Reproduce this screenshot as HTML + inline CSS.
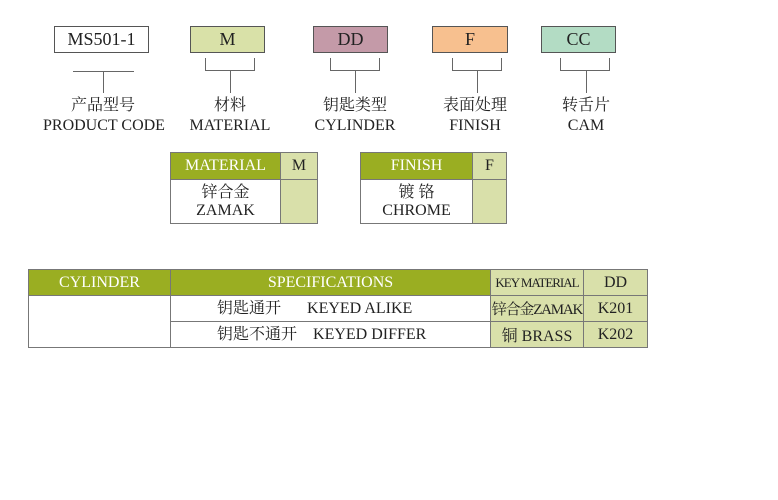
<!DOCTYPE html>
<html><head><meta charset="utf-8"><style>
body{margin:0;width:778px;height:500px;background:#fff;position:relative;overflow:hidden;font-family:"Liberation Serif","Noto Serif CJK SC",serif;color:#222}
.a{position:absolute;box-sizing:border-box}
.box{border:1px solid #555;text-align:center;font-size:18px;line-height:25px}
.l{background:#666}
.t{text-align:center;font-size:16px;line-height:20px;white-space:nowrap}
.g{background:#9aae22;color:#fff}
.lg{background:#d9e0aa}
.c{display:flex;align-items:center;justify-content:center;border:1px solid #777;font-size:16px;white-space:nowrap;overflow:hidden}
</style></head><body>
<div class="a box" style="left:54px;top:26px;width:95px;height:27px">MS501-1</div>
<div class="a box" style="left:190px;top:26px;width:75px;height:27px;background:#d9e1a8">M</div>
<div class="a box" style="left:313px;top:26px;width:75px;height:27px;background:#c49aa8">DD</div>
<div class="a box" style="left:432px;top:26px;width:76px;height:27px;background:#f7c08f">F</div>
<div class="a box" style="left:541px;top:26px;width:75px;height:27px;background:#b3dcc4">CC</div>

<div class="a l" style="left:73px;top:71px;width:61px;height:1px"></div>
<div class="a l" style="left:103px;top:71px;width:1px;height:22px"></div>
<div class="a" style="left:205px;top:58px;width:50px;height:13px;border:1px solid #666;border-top:none"></div>
<div class="a l" style="left:230px;top:71px;width:1px;height:22px"></div>
<div class="a" style="left:330px;top:58px;width:50px;height:13px;border:1px solid #666;border-top:none"></div>
<div class="a l" style="left:355px;top:71px;width:1px;height:22px"></div>
<div class="a" style="left:452px;top:58px;width:50px;height:13px;border:1px solid #666;border-top:none"></div>
<div class="a l" style="left:477px;top:71px;width:1px;height:22px"></div>
<div class="a" style="left:560px;top:58px;width:50px;height:13px;border:1px solid #666;border-top:none"></div>
<div class="a l" style="left:586px;top:71px;width:1px;height:22px"></div>

<div class="a t" style="left:43px;top:96px;width:120px">产品型号<br>PRODUCT CODE</div>
<div class="a t" style="left:180px;top:96px;width:100px">材料<br>MATERIAL</div>
<div class="a t" style="left:305px;top:96px;width:100px">钥匙类型<br>CYLINDER</div>
<div class="a t" style="left:425px;top:96px;width:100px">表面处理<br>FINISH</div>
<div class="a t" style="left:536px;top:96px;width:100px">转舌片<br>CAM</div>

<div class="a c g" style="left:170px;top:152px;width:111px;height:28px">MATERIAL</div>
<div class="a c lg" style="left:280px;top:152px;width:38px;height:28px">M</div>
<div class="a c" style="left:170px;top:179px;width:111px;height:45px;line-height:18px;flex-direction:column">锌合金<span>ZAMAK</span></div>
<div class="a c lg" style="left:280px;top:179px;width:38px;height:45px"></div>

<div class="a c g" style="left:360px;top:152px;width:113px;height:28px">FINISH</div>
<div class="a c lg" style="left:472px;top:152px;width:35px;height:28px">F</div>
<div class="a c" style="left:360px;top:179px;width:113px;height:45px;line-height:18px;flex-direction:column">镀 铬<span>CHROME</span></div>
<div class="a c lg" style="left:472px;top:179px;width:35px;height:45px"></div>

<div class="a c g" style="left:28px;top:269px;width:143px;height:27px">CYLINDER</div>
<div class="a c g" style="left:170px;top:269px;width:321px;height:27px">SPECIFICATIONS</div>
<div class="a c lg" style="left:490px;top:269px;width:94px;height:27px;font-size:13px;letter-spacing:-1px">KEY MATERIAL</div>
<div class="a c lg" style="left:583px;top:269px;width:65px;height:27px">DD</div>
<div class="a c" style="left:28px;top:295px;width:143px;height:53px"></div>
<div class="a c" style="left:170px;top:295px;width:321px;height:27px;justify-content:flex-start;padding-left:46px;line-height:20px">钥匙通开<span style="margin-left:26px">KEYED ALIKE</span></div>
<div class="a c" style="left:170px;top:321px;width:321px;height:27px;justify-content:flex-start;padding-left:46px;line-height:20px">钥匙不通开<span style="margin-left:16px">KEYED DIFFER</span></div>
<div class="a c lg" style="left:490px;top:295px;width:94px;height:27px;font-size:15px;letter-spacing:-1.2px">锌合金ZAMAK</div>
<div class="a c lg" style="left:490px;top:321px;width:94px;height:27px">铜 BRASS</div>
<div class="a c lg" style="left:583px;top:295px;width:65px;height:27px">K201</div>
<div class="a c lg" style="left:583px;top:321px;width:65px;height:27px">K202</div>
</body></html>
